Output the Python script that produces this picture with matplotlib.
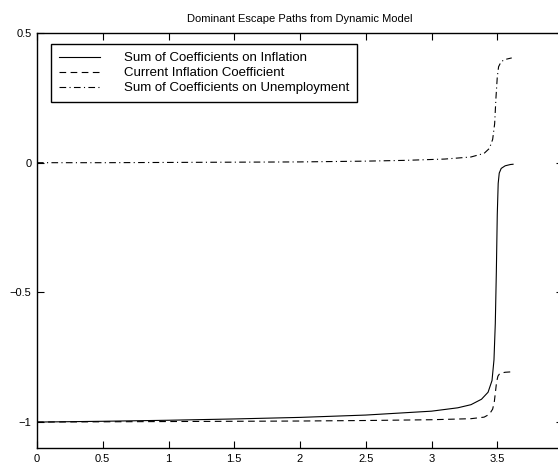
import numpy as np
import matplotlib
matplotlib.use("Agg")
import matplotlib.pyplot as plt

plt.rcParams['font.family'] = ['Liberation Sans', 'DejaVu Sans']

# Sum of Coefficients on Inflation (solid)
x_sum_infl = [0, 0.5, 1.0, 1.5, 2.0, 2.5, 3.0, 3.2, 3.3, 3.38, 3.43, 3.46, 3.475,
              3.485, 3.493, 3.5, 3.507, 3.515, 3.53, 3.56, 3.6, 3.62]
y_sum_infl = [-1.0, -0.997, -0.993, -0.988, -0.982, -0.973, -0.958, -0.945, -0.933,
              -0.912, -0.885, -0.84, -0.76, -0.62, -0.42, -0.2, -0.08, -0.04,
              -0.022, -0.012, -0.007, -0.006]

# Current Inflation Coefficient (dashed)
x_cur_infl = [0, 0.5, 1.0, 1.5, 2.0, 2.5, 3.0, 3.3, 3.4, 3.44, 3.465, 3.478,
              3.487, 3.495, 3.505, 3.52, 3.56, 3.62]
y_cur_infl = [-1.0, -0.999, -0.998, -0.997, -0.996, -0.994, -0.991, -0.987, -0.981,
              -0.97, -0.95, -0.92, -0.88, -0.845, -0.823, -0.812, -0.808, -0.806]

# Sum of Coefficients on Unemployment (dash-dot)
x_sum_unemp = [0, 0.5, 1.0, 1.5, 2.0, 2.5, 2.8, 3.1, 3.3, 3.4, 3.44, 3.465, 3.48,
               3.49, 3.5, 3.51, 3.53, 3.56, 3.61]
y_sum_unemp = [0.0, 0.0, 0.001, 0.002, 0.003, 0.006, 0.009, 0.014, 0.022, 0.036,
               0.055, 0.09, 0.15, 0.25, 0.33, 0.37, 0.39, 0.398, 0.404]

xticks = [0, 0.5, 1, 1.5, 2, 2.5, 3, 3.5]
xticklabels = ['0', '0.5', '1', '1.5', '2', '2.5', '3', '3.5']
yticks = [-1, -0.5, 0, 0.5]
yticklabels = ['\u22121', '\u22120.5', '0', '0.5']

fig = plt.figure(figsize=(5.58, 4.63), dpi=100)
# the right edge of the axes falls outside the picture, as in the source
ax = fig.add_axes([0.0663, 0.0324, 0.9427, 0.8963])

ax.plot(x_sum_infl, y_sum_infl, color='black', lw=0.8, linestyle='-',
        label='Sum of Coefficients on Inflation')
ax.plot(x_cur_infl, y_cur_infl, color='black', lw=0.8, linestyle=(0, (6, 4)),
        label='Current Inflation Coefficient')
ax.plot(x_sum_unemp, y_sum_unemp, color='black', lw=0.8, linestyle=(0, (6, 3, 1, 3)),
        label='Sum of Coefficients on Unemployment')

ax.set_xlim(0, 4)
ax.set_ylim(-1.1, 0.5)
ax.set_xticks(xticks)
ax.set_xticklabels(xticklabels)
ax.set_yticks(yticks)
ax.set_yticklabels(yticklabels)
ax.tick_params(direction='in', length=5, width=0.8, labelsize=8,
               top=True, right=True, pad=4)
for s in ax.spines.values():
    s.set_linewidth(1.0)

ax.set_title('Dominant Escape Paths from Dynamic Model', fontsize=8, pad=8)

leg = ax.legend(loc='upper left', bbox_to_anchor=(0.027, 0.973), borderaxespad=0,
                fontsize=9.5, handlelength=3.1, handletextpad=1.8, labelspacing=0.2,
                borderpad=0.6, fancybox=False, framealpha=1, edgecolor='black')
leg.get_frame().set_linewidth(1.0)

plt.savefig('out.png', dpi=100)
